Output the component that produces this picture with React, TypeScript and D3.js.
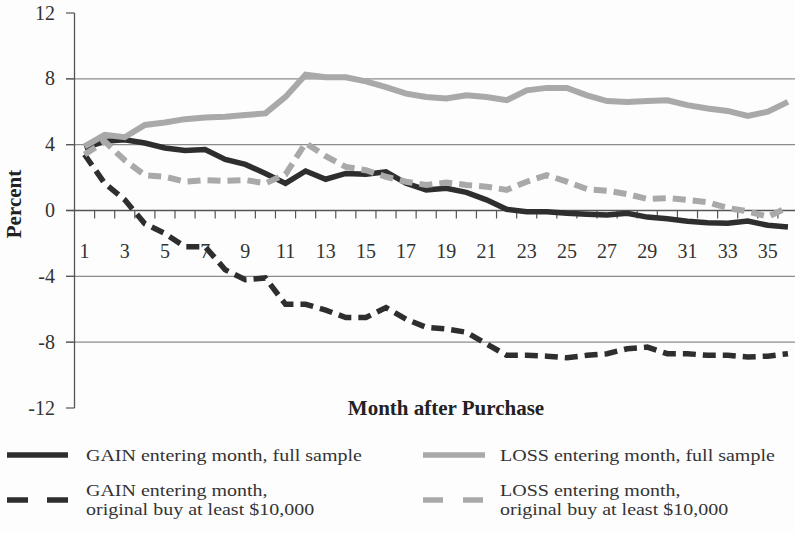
import React from "react";
import * as d3 from "d3";

const months = [1,2,3,4,5,6,7,8,9,10,11,12,13,14,15,16,17,18,19,20,21,22,23,24,25,26,27,28,29,30,31,32,33,34,35,36];
const yTicks = [-12, -8, -4, 0, 4, 8, 12];
const gridValues = [8, 4, -4, -8];

const gainFull = [3.8, 4.2, 4.3, 4.1, 3.8, 3.65, 3.7, 3.1, 2.8, 2.25, 1.65, 2.4, 1.9, 2.25, 2.2, 2.35, 1.65, 1.25, 1.35, 1.1, 0.65, 0.07, -0.07, -0.07, -0.17, -0.23, -0.27, -0.17, -0.4, -0.5, -0.65, -0.75, -0.78, -0.64, -0.9, -1.0];
const lossFull = [3.9, 4.6, 4.45, 5.2, 5.35, 5.55, 5.65, 5.7, 5.8, 5.9, 6.9, 8.25, 8.1, 8.1, 7.85, 7.5, 7.1, 6.9, 6.8, 7.0, 6.9, 6.7, 7.3, 7.45, 7.45, 7.0, 6.65, 6.6, 6.65, 6.7, 6.4, 6.2, 6.05, 5.75, 6.0, 6.6];
const gain10k = [3.4, 1.65, 0.65, -0.8, -1.4, -2.2, -2.2, -3.6, -4.2, -4.1, -5.7, -5.7, -6.05, -6.5, -6.5, -5.9, -6.6, -7.1, -7.2, -7.4, -8.1, -8.8, -8.8, -8.85, -8.95, -8.8, -8.7, -8.4, -8.3, -8.7, -8.7, -8.8, -8.8, -8.9, -8.85, -8.7];
const loss10k = [3.4, 4.2, 3.05, 2.15, 2.05, 1.75, 1.85, 1.8, 1.85, 1.65, 2.2, 4.1, 3.3, 2.65, 2.45, 2.05, 1.75, 1.55, 1.7, 1.55, 1.45, 1.25, 1.75, 2.15, 1.75, 1.3, 1.2, 1.0, 0.7, 0.75, 0.65, 0.5, 0.15, -0.05, -0.38, 0.2];

const seriesNames = [
  ["GAIN entering month, full sample"],
  ["LOSS entering month, full sample"],
  ["GAIN entering month,", "original buy at least $10,000"],
  ["LOSS entering month,", "original buy at least $10,000"],
];

const DARK = "#2e2e2e";
const LIGHT = "#a9a9a9";
const FONT = "'Liberation Serif', 'Times New Roman', serif";

export default function App() {
  const W = 795, H = 533;
  const x = d3.scaleBand<number>().domain(months).range([74.5, 798]).padding(0);
  const y = d3.scaleLinear().domain([-12, 12]).range([408, 13]);
  const cx = (m: number) => (x(m) as number) + x.bandwidth() / 2;
  const line = d3.line<number>().x((_, i) => cx(months[i])).y((v) => y(v));
  const y0 = y(0);
  const axisLeft = 74.5;

  const series = [
    { data: gainFull, color: DARK, dash: null, w: 5.5 },
    { data: lossFull, color: LIGHT, dash: null, w: 6 },
    { data: gain10k, color: DARK, dash: "13,7", w: 5.5 },
    { data: loss10k, color: LIGHT, dash: "13,7", w: 6 },
  ];

  const legendItems = [
    { x0: 7, x1: 68, tx: 86, ly: 455, ty: [461], color: DARK, dash: null, name: seriesNames[0] },
    { x0: 423, x1: 485, tx: 500, ly: 455, ty: [461], color: LIGHT, dash: null, name: seriesNames[1] },
    { x0: 7, x1: 68, tx: 86, ly: 500, ty: [496, 515], color: DARK, dash: "21,19", name: seriesNames[2] },
    { x0: 423, x1: 485, tx: 500, ly: 500, ty: [496, 515], color: LIGHT, dash: "20,20", name: seriesNames[3] },
  ];

  return (
    <svg width={W} height={H} style={{ position: "absolute", left: 0, top: 0, background: "#fff" }} fontFamily={FONT}>
      <rect x={0} y={0} width={W} height={H} fill="#fdfdfd" />
      {gridValues.map((v) => (
        <line key={"g" + v} x1={66} x2={W} y1={y(v)} y2={y(v)} stroke="#8c8c8c" strokeWidth={1.2} />
      ))}
      {/* y axis */}
      <line x1={axisLeft} x2={axisLeft} y1={y(12)} y2={y(-12)} stroke="#555" strokeWidth={1.3} />
      {yTicks.map((v) => (
        <g key={"yt" + v}>
          <line x1={66} x2={axisLeft} y1={y(v)} y2={y(v)} stroke="#555" strokeWidth={1.2} />
          <text x={55} y={y(v) + 6.5} textAnchor="end" fontSize={20} fill="#333">{v}</text>
        </g>
      ))}
      {/* x axis */}
      <line x1={66} x2={W} y1={y0} y2={y0} stroke="#555" strokeWidth={1.3} />
      {months.slice(1).map((m) => (
        <line key={"xt" + m} x1={x(m) as number} x2={x(m) as number} y1={y0} y2={y0 + 8} stroke="#555" strokeWidth={1.2} />
      ))}
      {months.filter((m) => m % 2 === 1).map((m) => (
        <text key={"xl" + m} x={cx(m)} y={258} textAnchor="middle" fontSize={20} fill="#333">{m}</text>
      ))}
      {/* series */}
      {series.map((s, i) => (
        <path key={"s" + i} d={line(s.data) as string} fill="none" stroke={s.color} strokeWidth={s.w}
          strokeDasharray={s.dash ?? undefined} strokeLinejoin="miter" />
      ))}
      {/* axis titles */}
      <text x={446} y={415} textAnchor="middle" fontSize={21} fontWeight="bold" fill="#222">Month after Purchase</text>
      <text transform={`translate(21,${204}) rotate(-90)`} textAnchor="middle" fontSize={21} fontWeight="bold" fill="#222">Percent</text>
      {/* legend */}
      {legendItems.map((it, i) => (
        <g key={"lg" + i}>
          <line x1={it.x0} x2={it.x1} y1={it.ly} y2={it.ly} stroke={it.color} strokeWidth={5.5} strokeDasharray={it.dash ?? undefined} />
          {it.name.map((t, j) => (
            <text key={j} transform={`translate(${it.tx},${it.ty[j]}) scale(1,0.88)`} fontSize={20} fill="#333">{t}</text>
          ))}
        </g>
      ))}
    </svg>
  );
}
